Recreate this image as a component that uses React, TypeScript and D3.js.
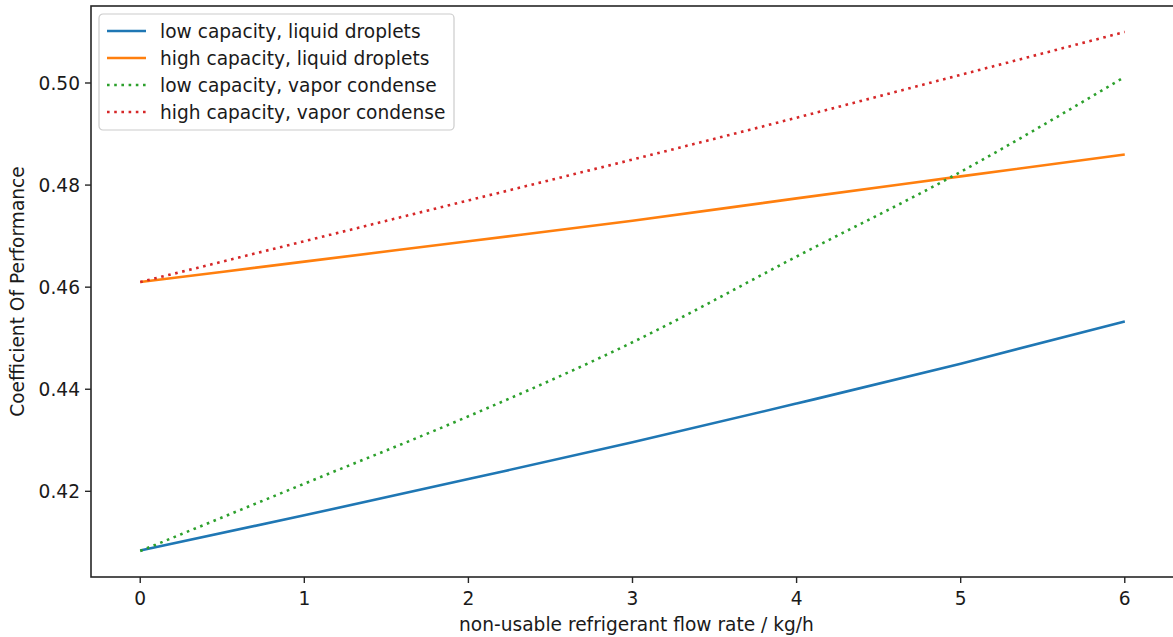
import * as d3 from "d3";
import React from "react";

// flow rate (kg/h)
const flowRates = [0, 1, 2, 3, 4, 5, 6];

// coefficient of performance per series
const lowLiquid = [0.4084, 0.4153, 0.4224, 0.4296, 0.4372, 0.445, 0.4533];
const highLiquid = [0.461, 0.465, 0.469, 0.473, 0.4774, 0.4817, 0.486];
const lowVapor = [0.4083, 0.4215, 0.4347, 0.4492, 0.466, 0.4826, 0.5012];
const highVapor = [0.461, 0.469, 0.477, 0.485, 0.4932, 0.5016, 0.51];

const seriesNames = [
  "low capacity, liquid droplets",
  "high capacity, liquid droplets",
  "low capacity, vapor condense",
  "high capacity, vapor condense",
];
const seriesColors = ["#1f77b4", "#ff7f0e", "#2ca02c", "#d62728"];
const seriesDotted = [false, false, true, true];

const xTicks = [0, 1, 2, 3, 4, 5, 6];
const yTicks = [0.42, 0.44, 0.46, 0.48, 0.5];

const W = 1173;
const H = 637;
const margin = { top: 6, right: -1, bottom: 60, left: 91 };
const FONT = "DejaVu Sans, sans-serif";
const FS = 18.6;

const App = (): React.ReactElement => {
  const ref = React.useRef<SVGSVGElement>(null);

  React.useEffect(() => {
    const svg = d3.select(ref.current);
    svg.selectAll("*").remove();

    const x0 = margin.left;
    const x1 = W - margin.right;
    const y0 = margin.top;
    const y1 = H - margin.bottom;

    const allSeries = [lowLiquid, highLiquid, lowVapor, highVapor];
    const xScale = d3.scaleLinear().domain([-0.3, 6.3]).range([x0, x1]);
    const yMin = d3.min(allSeries, (s) => d3.min(s)) as number;
    const yMax = d3.max(allSeries, (s) => d3.max(s)) as number;
    const pad = (yMax - yMin) * 0.05;
    const yScale = d3
      .scaleLinear()
      .domain([yMin - pad, yMax + pad])
      .range([y1, y0]);

    const g = svg.append("g");

    // lines
    const line = d3
      .line<number>()
      .x((_, i) => xScale(flowRates[i]))
      .y((d) => yScale(d))
      .curve(d3.curveMonotoneX);

    allSeries.forEach((s, i) => {
      g.append("path")
        .datum(s)
        .attr("fill", "none")
        .attr("stroke", seriesColors[i])
        .attr("stroke-width", 2.6)
        .attr("stroke-dasharray", seriesDotted[i] ? "2.6 4.6" : null)
        .attr("d", line);
    });

    // spines
    g.append("rect")
      .attr("x", x0)
      .attr("y", y0)
      .attr("width", x1 - x0)
      .attr("height", y1 - y0)
      .attr("fill", "none")
      .attr("stroke", "#262626")
      .attr("stroke-width", 1.6);

    // x axis
    xTicks.forEach((t) => {
      const x = xScale(t);
      g.append("line")
        .attr("x1", x)
        .attr("x2", x)
        .attr("y1", y1)
        .attr("y2", y1 + 6)
        .attr("stroke", "#262626")
        .attr("stroke-width", 1.4);
      g.append("text")
        .attr("x", x)
        .attr("y", y1 + 28)
        .attr("text-anchor", "middle")
        .attr("font-family", FONT)
        .attr("font-size", FS)
        .attr("fill", "#1a1a1a")
        .text(String(t));
    });

    // y axis
    yTicks.forEach((t) => {
      const y = yScale(t);
      g.append("line")
        .attr("x1", x0 - 6)
        .attr("x2", x0)
        .attr("y1", y)
        .attr("y2", y)
        .attr("stroke", "#262626")
        .attr("stroke-width", 1.4);
      g.append("text")
        .attr("x", x0 - 11)
        .attr("y", y)
        .attr("dy", "0.36em")
        .attr("text-anchor", "end")
        .attr("font-family", FONT)
        .attr("font-size", FS)
        .attr("fill", "#1a1a1a")
        .text(t.toFixed(2));
    });

    // axis labels
    g.append("text")
      .attr("x", (x0 + x1) / 2 + 4)
      .attr("y", 631)
      .attr("text-anchor", "middle")
      .attr("font-family", FONT)
      .attr("font-size", FS)
      .attr("fill", "#1a1a1a")
      .text("non-usable refrigerant flow rate / kg/h");

    g.append("text")
      .attr("transform", `translate(24, ${(y0 + y1) / 2}) rotate(-90)`)
      .attr("text-anchor", "middle")
      .attr("font-family", FONT)
      .attr("font-size", FS)
      .attr("fill", "#1a1a1a")
      .text("Coefficient Of Performance");

    // legend
    const legend = g.append("g").attr("transform", `translate(99, 14)`);
    legend
      .append("rect")
      .attr("width", 355)
      .attr("height", 116)
      .attr("rx", 4)
      .attr("fill", "white")
      .attr("fill-opacity", 0.8)
      .attr("stroke", "#cccccc")
      .attr("stroke-width", 1.2);
    seriesNames.forEach((name, i) => {
      const y = 17 + i * 27;
      legend
        .append("line")
        .attr("x1", 8)
        .attr("x2", 47)
        .attr("y1", y)
        .attr("y2", y)
        .attr("stroke", seriesColors[i])
        .attr("stroke-width", 2.6)
        .attr("stroke-dasharray", seriesDotted[i] ? "2.6 4.6" : null);
      legend
        .append("text")
        .attr("x", 61)
        .attr("y", y)
        .attr("dy", "0.36em")
        .attr("font-family", FONT)
        .attr("font-size", FS)
        .attr("fill", "#1a1a1a")
        .text(name);
    });
  }, []);

  return (
    <svg
      ref={ref}
      width={W}
      height={H}
      style={{ position: "absolute", left: 0, top: 0, background: "white" }}
    ></svg>
  );
};

export default App;
